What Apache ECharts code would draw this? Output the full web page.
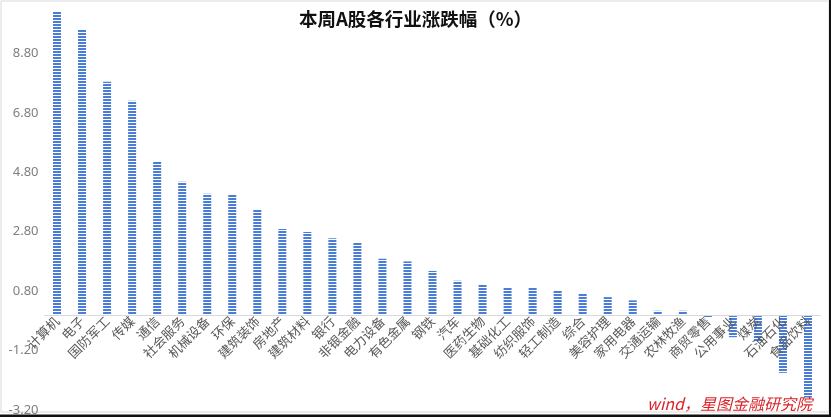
<!DOCTYPE html>
<html>
<head>
<meta charset="utf-8">
<script src="https://cdn.jsdelivr.net/npm/echarts@6/dist/echarts.min.js"></script>
<style>
html,body{margin:0;padding:0;background:#fff;}
#c{width:831px;height:417px;}
</style>
</head>
<body>
<div id="c"></div>
<script>
const categories = ['计算机','电子','国防军工','传媒','通信','社会服务','机械设备','环保','建筑装饰','房地产','建筑材料','银行','非银金融','电力设备','有色金属','钢铁','汽车','医药生物','基础化工','纺织服饰','轻工制造','综合','美容护理','家用电器','交通运输','农林牧渔','商贸零售','公用事业','煤炭','石油石化','食品饮料'];
const values = [10.23,9.59,7.85,7.21,5.15,4.48,4.08,4.05,3.54,2.89,2.79,2.58,2.45,1.89,1.80,1.48,1.15,1.01,0.93,0.93,0.83,0.73,0.60,0.49,0.14,0.14,-0.07,-0.75,-0.89,-1.95,-2.78];
const yMin = -3.2, yMax = 10.8, yStep = 2;
const titleText = '本周A股各行业涨跌幅（%）';
const sourceText = 'wind，星图金融研究院';

const pc = document.createElement('canvas');
pc.width = 4; pc.height = 3;
const g = pc.getContext('2d');
g.fillStyle = '#ffffff'; g.fillRect(0,0,4,3);
g.fillStyle = '#4a7ed6'; g.fillRect(0,0,4,2);

const gridTop = -6, gridBottom = 7, H = 417;
const plotH = H - gridTop - gridBottom;
const zeroFromBottom = plotH * (0 - yMin) / (yMax - yMin);

const chart = echarts.init(document.getElementById('c'), null, {renderer:'canvas'});
chart.setOption({
  backgroundColor:'#fff',
  animation:false,
  title:{text:titleText,left:'center',top:5,textStyle:{fontSize:18.5,fontWeight:'bold',color:'#111',fontFamily:'Noto Sans CJK SC'}},
  grid:{left:44.5,right:10.5,top:gridTop,bottom:gridBottom,containLabel:false,outerBoundsMode:'none'},
  xAxis:{type:'category',data:categories,offset:-zeroFromBottom,
    axisLine:{onZero:false,lineStyle:{color:'#d9d9d9',width:1}},
    axisTick:{show:false},
    axisLabel:{interval:0,rotate:45,color:'#595959',fontSize:13,margin:4,fontFamily:'Noto Sans CJK SC'},
    z:5},
  yAxis:{type:'value',min:yMin,max:yMax,interval:yStep,
    axisLine:{show:false},axisTick:{show:false},splitLine:{show:false},
    axisLabel:{color:'#7f7f7f',fontSize:13,margin:6,padding:[3,0,0,0],fontFamily:'Noto Sans',formatter:v=>v.toFixed(2)}},
  series:[{type:'bar',data:values,barWidth:8,z:2,
    itemStyle:{color:{image:pc,repeat:'repeat'}}}],
  graphic:[
    {type:'rect',shape:{x:1,y:1,width:828,height:411},style:{fill:null,stroke:'#d9d9d9',lineWidth:1},silent:true,z:0},
    {type:'rect',shape:{x:0,y:414.5,width:831,height:3},style:{fill:'#111'},silent:true},
    {type:'rect',shape:{x:829,y:0,width:2,height:417},style:{fill:'#111'},silent:true},
    {type:'text',right:19,top:396,style:{text:sourceText,fill:'#d9232a',fontSize:16,fontStyle:'italic',fontFamily:'Noto Sans CJK SC'},z:10}
  ]
});
</script>
</body>
</html>
